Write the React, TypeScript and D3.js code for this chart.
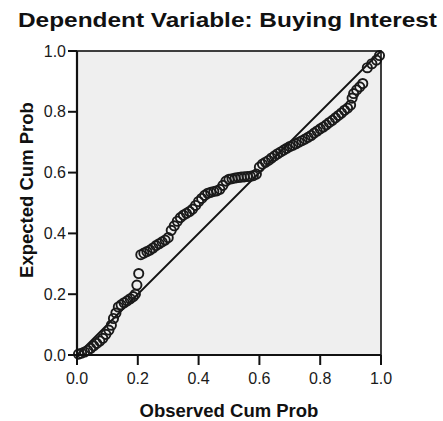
import * as d3 from "d3";

const title1 = "Dependent Variable:";
const title2 = "Buying Interest";
const xTitle = "Observed Cum Prob";
const yTitle = "Expected Cum Prob";
const ticks = [0, 0.2, 0.4, 0.6, 0.8, 1.0];

// observed cumulative probability of each residual
const observed = [
  0.005, 0.015, 0.025, 0.035, 0.045, 0.055, 0.065, 0.075, 0.085, 0.095,
  0.105, 0.113, 0.12, 0.128, 0.136, 0.145, 0.155, 0.165, 0.175, 0.185,
  0.192, 0.197, 0.203, 0.21, 0.22, 0.23, 0.24, 0.25, 0.26, 0.27,
  0.28, 0.29, 0.3, 0.31, 0.32, 0.33, 0.34, 0.35, 0.36, 0.37,
  0.38, 0.39, 0.4, 0.41, 0.42, 0.43, 0.44, 0.45, 0.46, 0.47,
  0.48, 0.49, 0.5, 0.51, 0.52, 0.53, 0.54, 0.55, 0.56, 0.57,
  0.58, 0.59, 0.6, 0.61, 0.62, 0.63, 0.64, 0.65, 0.66, 0.67,
  0.68, 0.69, 0.7, 0.71, 0.72, 0.73, 0.74, 0.75, 0.76, 0.77,
  0.78, 0.79, 0.8, 0.81, 0.82, 0.83, 0.84, 0.85, 0.86, 0.87,
  0.88, 0.89, 0.9, 0.905, 0.91, 0.92, 0.93, 0.94, 0.955, 0.97,
  0.985, 0.995,
];

// expected cumulative probability under normality
const expected = [
  0.003, 0.006, 0.01, 0.015, 0.022, 0.03, 0.038, 0.046, 0.055, 0.068,
  0.082, 0.098, 0.12, 0.138, 0.158, 0.165, 0.172, 0.178, 0.185, 0.192,
  0.2, 0.23, 0.268, 0.33, 0.335, 0.34, 0.345, 0.352, 0.36, 0.366,
  0.372, 0.378, 0.386, 0.41, 0.425, 0.44, 0.452, 0.46, 0.466, 0.472,
  0.48, 0.492, 0.505, 0.515, 0.525, 0.532, 0.535, 0.538, 0.54, 0.545,
  0.558, 0.572, 0.578, 0.58, 0.582, 0.584, 0.585, 0.586, 0.587, 0.588,
  0.59, 0.595, 0.618, 0.628, 0.634, 0.64, 0.648, 0.655, 0.662, 0.668,
  0.674, 0.68, 0.686, 0.69, 0.695, 0.7, 0.705, 0.71, 0.716, 0.722,
  0.73, 0.737, 0.744, 0.75, 0.757, 0.765, 0.772, 0.78, 0.788, 0.796,
  0.805, 0.812, 0.822, 0.845, 0.86, 0.872, 0.882, 0.893, 0.945, 0.958,
  0.97, 0.985,
];

export default function App() {
  const width = 443;
  const height = 421;
  const margin = { top: 51, right: 62, bottom: 66, left: 77 };

  const x = d3.scaleLinear().domain([0, 1]).range([margin.left, width - margin.right]);
  const y = d3.scaleLinear().domain([0, 1]).range([height - margin.bottom, margin.top]);

  const points = observed.map((o, i) => ({ o, e: expected[i] }));
  const font = "'Liberation Sans', Arial, sans-serif";

  return (
    <svg width={width} height={height} style={{ position: "absolute", left: 0, top: 0, background: "#fff" }}>
      {/* title */}
      <text x={18} y={27} fontFamily={font} fontSize={21} fill="#111" textLength={419} lengthAdjust="spacingAndGlyphs">
        <tspan fontWeight={600}>{title1} </tspan>
        <tspan fontWeight={700}>{title2}</tspan>
      </text>

      {/* plot background */}
      <rect x={x(0)} y={y(1)} width={x(1) - x(0)} height={y(0) - y(1)} fill="#efefef" />

      {/* reference diagonal */}
      <line x1={x(0)} y1={y(0)} x2={x(1)} y2={y(1)} stroke="#111" strokeWidth={1.8} />

      {/* points */}
      {points.map((d, i) => (
        <circle key={i} cx={x(d.o)} cy={y(d.e)} r={4.6} fill="none" stroke="#1a1a1a" strokeWidth={1.9} />
      ))}

      {/* frame */}
      <rect x={x(0)} y={y(1)} width={x(1) - x(0)} height={y(0) - y(1)} fill="none" stroke="#111" strokeWidth={1.6} />
      <line x1={x(0)} y1={y(0)} x2={x(1)} y2={y(0)} stroke="#111" strokeWidth={2.2} />
      <line x1={x(0)} y1={y(0)} x2={x(0)} y2={y(1)} stroke="#111" strokeWidth={2.2} />

      {/* x axis */}
      {ticks.map((t) => (
        <g key={"x" + t} transform={`translate(${x(t)},${y(0)})`}>
          <line y2={10} stroke="#111" strokeWidth={2} />
          <text y={29} textAnchor="middle" fontFamily={font} fontSize={16} fill="#1a1a1a">
            {d3.format(".1f")(t)}
          </text>
        </g>
      ))}

      {/* y axis */}
      {ticks.map((t) => (
        <g key={"y" + t} transform={`translate(${x(0)},${y(t)})`}>
          <line x2={-9} stroke="#111" strokeWidth={2} />
          <text x={-11} dy="0.35em" textAnchor="end" fontFamily={font} fontSize={16} fill="#1a1a1a">
            {d3.format(".1f")(t)}
          </text>
        </g>
      ))}

      <text x={229} y={417} textAnchor="middle" fontFamily={font} fontSize={18.5} fontWeight={700} fill="#111">
        {xTitle}
      </text>
      <text transform="translate(33,190) rotate(-90)" textAnchor="middle" fontFamily={font} fontSize={18.5} fontWeight={700} fill="#111">
        {yTitle}
      </text>
    </svg>
  );
}
